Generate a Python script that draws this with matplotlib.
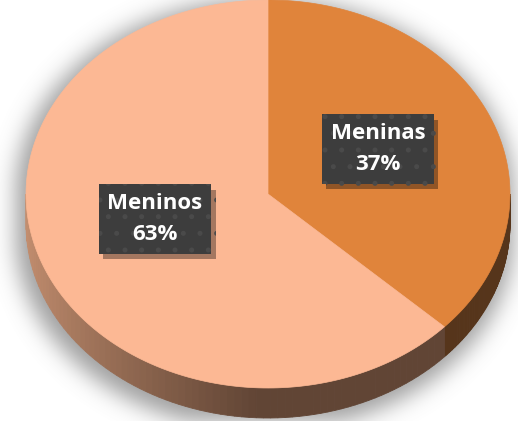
import numpy as np
import matplotlib.pyplot as plt
from matplotlib.patches import Polygon
from matplotlib.colors import to_rgb
from matplotlib import patheffects as pe

# dados
rotulos = ["Meninas", "Meninos"]
valores = [37, 63]
cores_topo = ["#E0843B", "#FCB894"]
cores_lado = ["#56351B", "#614535"]

# geometria do "pie 3D" (em pixels)
cx, cy = 268, 194
a, b = 242, 194
esp = 30

plt.rcParams['font.family'] = ['Open Sans', 'DejaVu Sans']
plt.rcParams['hatch.linewidth'] = 1.2

fig = plt.figure(figsize=(5.18, 4.21), dpi=100)
ax = fig.add_axes([0, 0, 1, 1])
ax.set_xlim(0, 518)
ax.set_ylim(421, 0)
ax.axis('off')


def ponto(theta, dy=0):
    t = np.radians(theta)
    return cx + a * np.cos(t), cy - b * np.sin(t) + dy


# sombra difusa
H, W = 421, 518
yy, xx = np.mgrid[0:H, 0:W]
mask = np.zeros((H, W))
for dy in np.linspace(0, esp + 10, 20):
    mask = np.maximum(mask, (((xx - cx + 4) / (a + 7)) ** 2 + ((yy - cy - dy) / (b + 2)) ** 2 <= 1).astype(float))
sig = 11
k = np.exp(-0.5 * (np.arange(-38, 39) / sig) ** 2)
k /= k.sum()
blur = np.apply_along_axis(lambda r: np.convolve(r, k, mode='same'), 1, mask)
blur = np.apply_along_axis(lambda c: np.convolve(c, k, mode='same'), 0, blur)
img = np.zeros((H, W, 4))
img[..., :3] = 0.5
img[..., 3] = blur * 0.75
ax.imshow(img, extent=(0, W, H, 0), zorder=0)

# angulos das fatias (sentido horario a partir do topo)
total = sum(valores)
inicio = 90.0
fatias = []
for v in valores:
    fim = inicio - 360.0 * v / total
    fatias.append((inicio, fim))
    inicio = fim


# parede lateral (so a metade da frente)
def lado(t0, t1, cor_a, cor_b, n=80):
    ts = np.linspace(t0, t1, n + 1)
    ca, cb = np.array(to_rgb(cor_a)), np.array(to_rgb(cor_b))
    for i in range(n):
        p1 = ponto(ts[i]); p2 = ponto(ts[i + 1])
        x_med = (p1[0] + p2[0]) / 2
        f = np.clip((x_med - 28) / 230, 0, 1) ** 0.8
        cor = ca + (cb - ca) * f
        poly = [p1, p2, ponto(ts[i + 1], esp), ponto(ts[i], esp)]
        ax.add_patch(Polygon(poly, closed=True, fc=cor, ec=cor, lw=0.6, zorder=1))


for (t0, t1), cor, nome in zip(fatias, cores_lado, rotulos):
    lo, hi = max(t1, -180), min(t0, 0)
    if lo < hi:
        if nome == "Meninos":
            lado(lo, hi, "#C28D6E", cor)
        else:
            lado(lo, hi, cor, cor)

# topo
for (t0, t1), cor in zip(fatias, cores_topo):
    ts = np.linspace(t0, t1, 200)
    pts = [(cx, cy)] + [ponto(t) for t in ts]
    ax.add_patch(Polygon(pts, closed=True, fc=cor, ec=cor, lw=0.5, zorder=2))

# rotulos
pos_rotulos = [(378, 149), (155, 219)]
for rot, v, (x, y) in zip(rotulos, valores, pos_rotulos):
    txt = f"{rot}\n{v}%"
    t = ax.text(x, y, txt, ha='center', va='center', fontsize=16, fontweight='bold',
                color='white', linespacing=1.6, zorder=4,
                bbox=dict(boxstyle='square,pad=0.4', fc='#3D3D3D', ec='#4A4A4A', lw=0, hatch='.'))
    t.get_bbox_patch().set_path_effects([
        pe.SimplePatchShadow(offset=(3, -4), shadow_rgbFace='black', alpha=0.35), pe.Normal()])

fig.savefig("out.png", dpi=100)
